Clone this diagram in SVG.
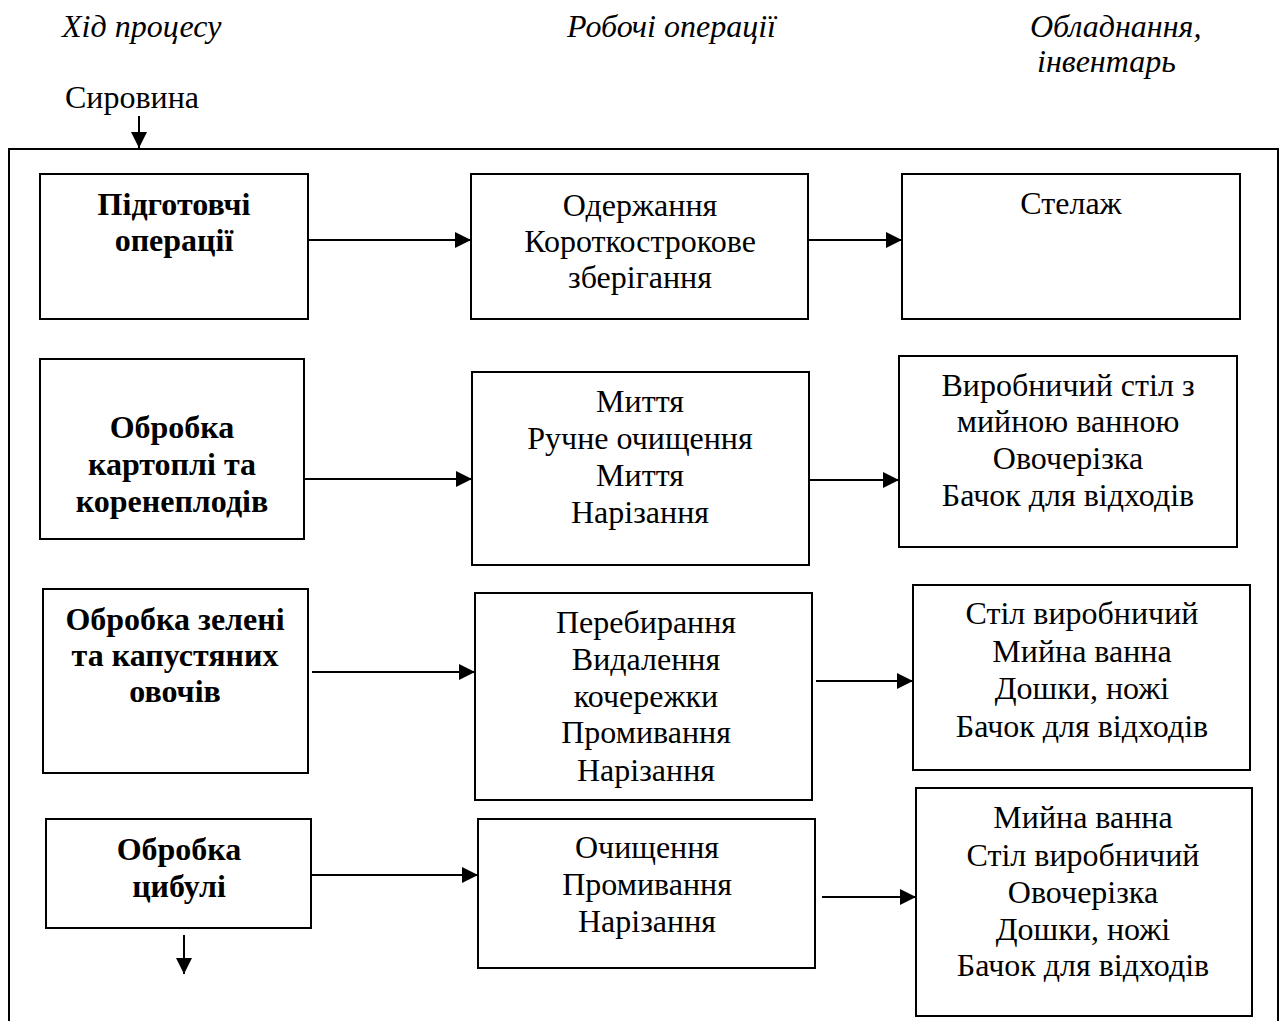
<svg xmlns="http://www.w3.org/2000/svg" width="1282" height="1021" viewBox="0 0 1282 1021">
<style>
text{font-family:"Liberation Serif","Times New Roman",serif;font-size:32px;fill:#000}
.h{font-style:italic}
.b{font-weight:bold}
.c{text-anchor:middle}
.box{fill:#fff;stroke:#000;stroke-width:2}
.ln{fill:none;stroke:#000;stroke-width:2}
</style>
<defs>
<marker id="ah" markerUnits="userSpaceOnUse" markerWidth="18" markerHeight="16" refX="16" refY="8" orient="auto">
<path d="M0,0 L16,8 L0,16 Z" fill="#000"/>
</marker>
</defs>
<rect width="1282" height="1021" fill="#fff"/>
<g id="headers">
<text class="h" x="62" y="37">Хід процесу</text>
<text class="h" x="567" y="37">Робочі операції</text>
<text class="h" x="1030" y="37">Обладнання,</text>
<text class="h" x="1037" y="72">інвентарь</text>
<text x="65" y="108">Сировина</text>
</g>
<g id="frame"><path class="ln" d="M9,1021 V149 H1278 V1021"/></g>
<g id="a1"><rect class="box" x="40" y="174" width="268" height="145"/>
<text class="b c" x="174" y="215">Підготовчі</text><text class="b c" x="174" y="251">операції</text></g>
<g id="b1"><rect class="box" x="471" y="174" width="337" height="145"/>
<text class="c" x="640" y="216">Одержання</text><text class="c" x="640" y="252">Короткострокове</text><text class="c" x="640" y="288">зберігання</text></g>
<g id="c1"><rect class="box" x="902" y="174" width="338" height="145"/>
<text class="c" x="1071" y="214">Стелаж</text></g>
<g id="a2"><rect class="box" x="40" y="359" width="264" height="180"/>
<text class="b c" x="172" y="438">Обробка</text><text class="b c" x="172" y="475">картоплі та</text><text class="b c" x="172" y="512">коренеплодів</text></g>
<g id="b2"><rect class="box" x="472" y="372" width="337" height="193"/>
<text class="c" x="640" y="412">Миття</text><text class="c" x="640" y="449">Ручне очищення</text><text class="c" x="640" y="486">Миття</text><text class="c" x="640" y="523">Нарізання</text></g>
<g id="c2"><rect class="box" x="899" y="356" width="338" height="191"/>
<text class="c" x="1068" y="396">Виробничий стіл з</text><text class="c" x="1068" y="432">мийною ванною</text><text class="c" x="1068" y="469">Овочерізка</text><text class="c" x="1068" y="506">Бачок для відходів</text></g>
<g id="a3"><rect class="box" x="43" y="589" width="265" height="184"/>
<text class="b c" x="175" y="630">Обробка зелені</text><text class="b c" x="175" y="666">та капустяних</text><text class="b c" x="175" y="702">овочів</text></g>
<g id="b3"><rect class="box" x="475" y="593" width="337" height="207"/>
<text class="c" x="646" y="633">Перебирання</text><text class="c" x="646" y="670">Видалення</text><text class="c" x="646" y="707">кочережки</text><text class="c" x="646" y="743">Промивання</text><text class="c" x="646" y="781">Нарізання</text></g>
<g id="c3"><rect class="box" x="913" y="585" width="337" height="185"/>
<text class="c" x="1082" y="624">Стіл виробничий</text><text class="c" x="1082" y="662">Мийна ванна</text><text class="c" x="1082" y="699">Дошки, ножі</text><text class="c" x="1082" y="737">Бачок для відходів</text></g>
<g id="a4"><rect class="box" x="46" y="819" width="265" height="109"/>
<text class="b c" x="179" y="860">Обробка</text><text class="b c" x="179" y="897">цибулі</text></g>
<g id="b4"><rect class="box" x="478" y="819" width="337" height="149"/>
<text class="c" x="647" y="858">Очищення</text><text class="c" x="647" y="895">Промивання</text><text class="c" x="647" y="932">Нарізання</text></g>
<g id="c4"><rect class="box" x="916" y="788" width="336" height="228"/>
<text class="c" x="1083" y="828">Мийна ванна</text><text class="c" x="1083" y="866">Стіл виробничий</text><text class="c" x="1083" y="903">Овочерізка</text><text class="c" x="1083" y="940">Дошки, ножі</text><text class="c" x="1083" y="976">Бачок для відходів</text></g>
<g id="connectors" class="ln" marker-end="url(#ah)">
<line class="ln" x1="139" y1="116" x2="139" y2="148" marker-end="url(#ah)"/>
<line class="ln" x1="308" y1="240" x2="471" y2="240" marker-end="url(#ah)"/>
<line class="ln" x1="808" y1="240" x2="902" y2="240" marker-end="url(#ah)"/>
<line class="ln" x1="304" y1="479" x2="472" y2="479" marker-end="url(#ah)"/>
<line class="ln" x1="809" y1="480" x2="899" y2="480" marker-end="url(#ah)"/>
<line class="ln" x1="312" y1="672" x2="475" y2="672" marker-end="url(#ah)"/>
<line class="ln" x1="816" y1="681" x2="913" y2="681" marker-end="url(#ah)"/>
<line class="ln" x1="311" y1="875" x2="478" y2="875" marker-end="url(#ah)"/>
<line class="ln" x1="822" y1="897" x2="916" y2="897" marker-end="url(#ah)"/>
<line class="ln" x1="184" y1="935" x2="184" y2="974" marker-end="url(#ah)"/>
</g>
</svg>
